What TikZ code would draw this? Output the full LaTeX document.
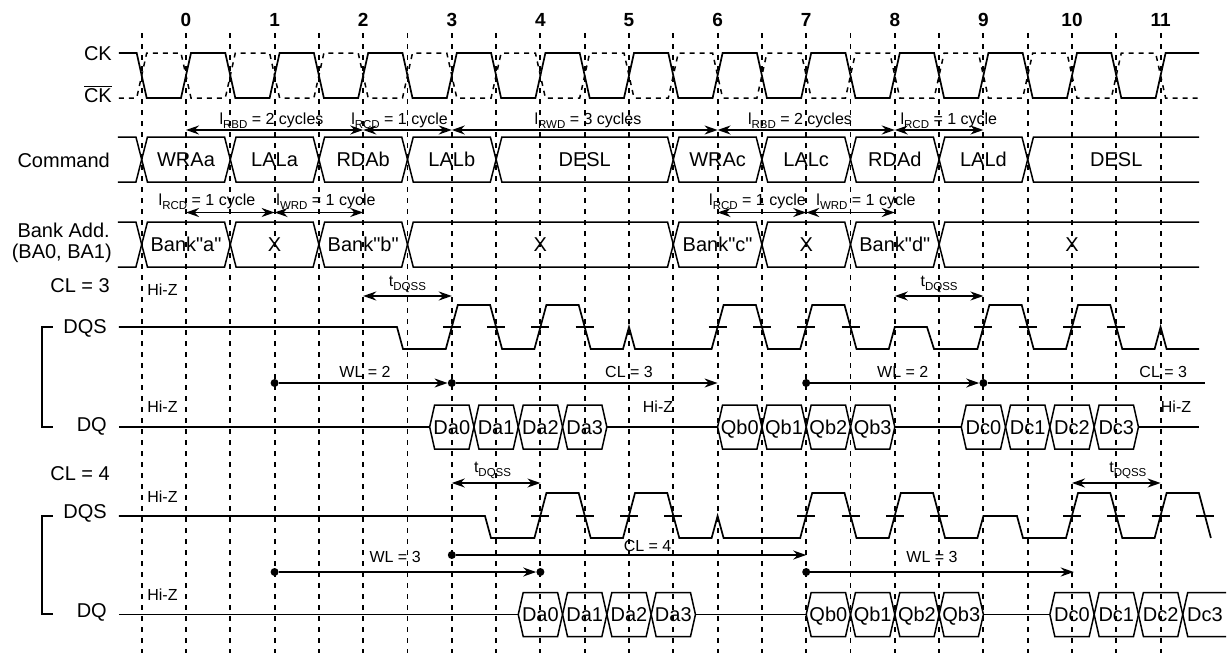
\documentclass[tikz,border=0pt]{standalone}
\usepackage{fontspec}
\setmainfont{Liberation Sans}[Ligatures=TeXOff]
\usetikzlibrary{arrows.meta}
\newcommand\px[1]{((#1-186)/88.6)}
\newcommand\lsub[1]{\raisebox{-4.5pt}{\fontsize{11.5}{12}\selectfont #1}}
\newcommand\qq{\symbol{34}}
\newcommand\bcell[7]{%
  \draw[bus] ({#1},{#3}) -- ({#1+#5},{#3-#4}) -- ({#2-#5},{#3-#4}) -- ({#2},{#3}) -- ({#2-#5},{#3+#4}) -- ({#1+#5},{#3+#4}) -- cycle;
  \node[celltext] (#7) at ({(#1+#2)/2},{#3+7.2}) {#6};}
\newcommand\openL[4]{\draw[bus] ({\px{118}},{#2-#3}) -- ({#1-#4},{#2-#3}) -- ({#1},{#2}) -- ({#1-#4},{#2+#3}) -- ({\px{118}},{#2+#3});}
\newcommand\openR[5]{\draw[bus] ({#2},{#3-#4}) -- ({#1+#5},{#3-#4}) -- ({#1},{#3}) -- ({#1+#5},{#3+#4}) -- ({#2},{#3+#4});}
\def\cs{0.0564}
\def\bsw{0.065}
\def\dqw{0.056}
\def\dsw{0.0677}
\def\tk{0.1016}
\begin{document}
\begin{tikzpicture}[x=88.6pt,y=-1pt,
  gridline/.style={line width=1.9pt,dash pattern=on 5pt off 6pt},
  wave/.style={line width=1.7pt,line join=miter},
  ckbar/.style={line width=1.5pt,dash pattern=on 5pt off 5pt},
  bus/.style={line width=1.5pt},
  big/.style={font=\fontsize{20}{22}\selectfont,inner sep=0pt,anchor=base east},
  celltext/.style={font=\fontsize{20}{22}\selectfont,inner sep=0pt,anchor=base},
  small/.style={font=\fontsize{16}{18}\selectfont,inner sep=0pt,anchor=base},
  num/.style={font=\fontsize{19}{21}\selectfont\bfseries,inner sep=0pt,anchor=base},
  span/.style={line width=1.7pt,{Stealth[length=13pt,width=9pt]}-{Stealth[length=13pt,width=9pt]}},
  lat/.style={line width=1.7pt,-{Stealth[length=13pt,width=9pt]}},
  plain/.style={line width=1.7pt},
  dot/.style={circle,fill=black,inner sep=0pt,minimum size=8pt},
]
\useasboundingbox ({\px{0}},0) rectangle ({\px{1229}},653);

% cycle numbers
\foreach \k in {0,...,11} \node[num] (num\k) at (\k,27) {\k};

% grid
\foreach \k in {-1,...,22} \draw[gridline] ({\k/2},33) -- ({\k/2},653);

% left labels
\node[big] (lck) at ({\px{112}},60.2) {CK};
\node[big] (lckb) at ({\px{112}},102) {$\overline{\hbox{CK}}$};
\node[big] (lcmd) at ({\px{110}},167) {Command};
\node[big] (lba1) at ({\px{110}},237) {Bank Add.};
\node[big] (lba2) at ({\px{112}},258) {(BA0, BA1)};
\node[big] (lcl3) at ({\px{110}},292) {CL = 3};
\node[big] (ldqs3) at ({\px{107}},333) {DQS};
\node[big] (ldq3) at ({\px{107}},431) {DQ};
\node[big] (lcl4) at ({\px{110}},480) {CL = 4};
\node[big] (ldqs4) at ({\px{107}},518) {DQS};
\node[big] (ldq4) at ({\px{107}},617) {DQ};

% brackets
\draw[plain] ({\px{53}},327) -- ({\px{42}},327) -- ({\px{42}},427) -- ({\px{53}},427);
\draw[plain] ({\px{53}},516) -- ({\px{42}},516) -- ({\px{42}},614) -- ({\px{53}},614);

% clocks
\draw[wave] ({\px{119}},53) \foreach \k in {0,...,11} { -- ({\k-0.5-\cs},53) -- ({\k-0.5+\cs},98) -- ({\k-\cs},98) -- ({\k+\cs},53) } -- ({\px{1199}},53);
\draw[ckbar] ({\px{119}},98) \foreach \k in {0,...,11} { -- ({\k-0.5-\cs},98) -- ({\k-0.5+\cs},53) -- ({\k-\cs},53) -- ({\k+\cs},98) } -- ({\px{1199}},98);

% command bus
\openL{-0.5}{159.5}{22.5}{\bsw}
\bcell{-0.5}{0.5}{159.5}{22.5}{\bsw}{WRAa}{cmd1}
\bcell{0.5}{1.5}{159.5}{22.5}{\bsw}{LALa}{cmd2}
\bcell{1.5}{2.5}{159.5}{22.5}{\bsw}{RDAb}{cmd3}
\bcell{2.5}{3.5}{159.5}{22.5}{\bsw}{LALb}{cmd4}
\bcell{3.5}{5.5}{159.5}{22.5}{\bsw}{DESL}{cmd5}
\bcell{5.5}{6.5}{159.5}{22.5}{\bsw}{WRAc}{cmd6}
\bcell{6.5}{7.5}{159.5}{22.5}{\bsw}{LALc}{cmd7}
\bcell{7.5}{8.5}{159.5}{22.5}{\bsw}{RDAd}{cmd8}
\bcell{8.5}{9.5}{159.5}{22.5}{\bsw}{LALd}{cmd9}
\openR{9.5}{\px{1199}}{159.5}{22.5}{\bsw}
\node[celltext] (cmd10) at (10.5,166.7) {DESL};

% command annotations
\draw[span] (0,130) -- (2,130);
\draw[span] (2,130) -- (3,130);
\draw[span] (3,130) -- (6,130);
\draw[span] (6,130) -- (8,130);
\draw[span] (8,130) -- (9,130);
\node[small] (a1) at (0.965,124) {l\lsub{RBD} = 2 cycles};
\node[small] (a2) at (2.41,124) {l\lsub{RCD} = 1 cycle};
\node[small] (a3) at (4.537,124) {l\lsub{RWD} = 3 cycles};
\node[small] (a4) at (6.93,124) {l\lsub{RBD} = 2 cycles};
\node[small] (a5) at (8.61,124) {l\lsub{RCD} = 1 cycle};

% bank bus
\openL{-0.5}{244.5}{22.5}{\bsw}
\bcell{-0.5}{0.5}{244.5}{22.5}{\bsw}{Bank\qq a\qq}{ba1}
\bcell{0.5}{1.5}{244.5}{22.5}{\bsw}{X}{ba2}
\bcell{1.5}{2.5}{244.5}{22.5}{\bsw}{Bank\qq b\qq}{ba3}
\bcell{2.5}{5.5}{244.5}{22.5}{\bsw}{X}{ba4}
\bcell{5.5}{6.5}{244.5}{22.5}{\bsw}{Bank\qq c\qq}{ba5}
\bcell{6.5}{7.5}{244.5}{22.5}{\bsw}{X}{ba6}
\bcell{7.5}{8.5}{244.5}{22.5}{\bsw}{Bank\qq d\qq}{ba7}
\openR{8.5}{\px{1199}}{244.5}{22.5}{\bsw}
\node[celltext] (ba8) at (10,251.7) {X};

% bank annotations
\draw[span] (0,212.5) -- (1,212.5);
\draw[span] (1,212.5) -- (2,212.5);
\draw[span] (6,212.5) -- (7,212.5);
\draw[span] (7,212.5) -- (8,212.5);
\node[small] (b1) at (0.237,205) {l\lsub{RCD} = 1 cycle};
\node[small] (b2) at (1.58,205) {l\lsub{WRD} = 1 cycle};
\node[small] (b3) at (6.45,205) {l\lsub{RCD} = 1 cycle};
\node[small] (b4) at (7.675,205) {l\lsub{WRD} = 1 cycle};

% ===== CL = 3 =====
\draw[span] (2,296) -- (3,296);
\draw[span] (8,296) -- (9,296);
\node[small] (q1) at (2.5,286) {t\lsub{DQSS}};
\node[small] (q2) at (8.5,286) {t\lsub{DQSS}};
\node[small] (hz1) at ({\px{162.5}},295) {Hi-Z};

\draw[wave] ({\px{119}},327) -- ({\px{397}},327) -- ({\px{403}},349)
 -- ({3-\dsw},349) -- ({3+\dsw},305) -- ({3.5-\dsw},305) -- ({3.5+\dsw},349)
 -- ({4-\dsw},349) -- ({4+\dsw},305) -- ({4.5-\dsw},305) -- ({4.5+\dsw},349)
 -- ({5-\dsw},349) -- (5,327) -- ({5+\dsw},349)
 -- ({6-\dsw},349) -- ({6+\dsw},305) -- ({6.5-\dsw},305) -- ({6.5+\dsw},349)
 -- ({7-\dsw},349) -- ({7+\dsw},305) -- ({7.5-\dsw},305) -- ({7.5+\dsw},349)
 -- ({8-\dsw},349) -- (8,327) -- ({\px{927}},327) -- ({\px{934}},349)
 -- ({9-\dsw},349) -- ({9+\dsw},305) -- ({9.5-\dsw},305) -- ({9.5+\dsw},349)
 -- ({10-\dsw},349) -- ({10+\dsw},305) -- ({10.5-\dsw},305) -- ({10.5+\dsw},349)
 -- ({11-\dsw},349) -- (11,327) -- ({11+\dsw},349) -- ({\px{1199}},349);
\foreach \t in {3,3.5,4,4.5,6,6.5,7,7.5,9,9.5,10,10.5}
  \draw[wave] ({\t-\tk},327) -- ({\t+\tk},327);

\node[dot] (w1) at (1,383) {};
\node[dot] (w2) at (3,383) {};
\node[dot] (w3) at (7,383) {};
\node[dot] (w4) at (9,383) {};
\coordinate (w5) at (6,383);
\coordinate (w6) at ({\px{1205}},383);
\draw[lat] (w1) -- (w2);
\draw[lat] (w2) -- (w5);
\draw[lat] (w3) -- (w4);
\draw[plain] (w4) -- (w6);
\node[small] (wl1) at (2.02,377) {WL = 2};
\node[small] (cl1) at (5.0,377) {CL = 3};
\node[small] (wl2) at (8.09,377) {WL = 2};
\node[small] (cl2) at (11.03,377) {CL = 3};

\node[small] (hz2) at ({\px{162.5}},412) {Hi-Z};
\node[small] (hz3) at ({\px{658}},412) {Hi-Z};
\node[small] (hz4) at ({\px{1176}},412) {Hi-Z};

\draw[bus] ({\px{119}},427) -- (2.75,427);
\foreach \a/\l [count=\i] in {2.75/Da0,3.25/Da1,3.75/Da2,4.25/Da3}
  {\bcell{\a}{\a+0.5}{427}{22}{\dqw}{\l}{dqa\i}}
\draw[bus] (4.75,427) -- (6,427);
\foreach \a/\l [count=\i] in {6/Qb0,6.5/Qb1,7/Qb2,7.5/Qb3}
  {\bcell{\a}{\a+0.5}{427}{22}{\dqw}{\l}{dqb\i}}
\draw[bus] (8,427) -- (8.75,427);
\foreach \a/\l [count=\i] in {8.75/Dc0,9.25/Dc1,9.75/Dc2,10.25/Dc3}
  {\bcell{\a}{\a+0.5}{427}{22}{\dqw}{\l}{dqc\i}}
\draw[bus] (10.75,427) -- ({\px{1199}},427);

% ===== CL = 4 =====
\draw[span] (3,483) -- (4,483);
\draw[span] (10,483) -- (11,483);
\node[small] (q3) at (3.46,472) {t\lsub{DQSS}};
\node[small] (q4) at (10.63,472) {t\lsub{DQSS}};
\node[small] (hz5) at ({\px{162.5}},502) {Hi-Z};

\draw[wave] ({\px{119}},516) -- ({\px{485}},516) -- ({\px{491}},538)
 -- ({4-\dsw},538) -- ({4+\dsw},493) -- ({4.5-\dsw},493) -- ({4.5+\dsw},538)
 -- ({5-\dsw},538) -- ({5+\dsw},493) -- ({5.5-\dsw},493) -- ({5.5+\dsw},538)
 -- ({6-\dsw},538) -- (6,516) -- ({6+\dsw},538)
 -- ({7-\dsw},538) -- ({7+\dsw},493) -- ({7.5-\dsw},493) -- ({7.5+\dsw},538)
 -- ({8-\dsw},538) -- ({8+\dsw},493) -- ({8.5-\dsw},493) -- ({8.5+\dsw},538)
 -- ({9-\dsw},538) -- (9,516) -- ({\px{1017}},516) -- ({\px{1023}},538)
 -- ({10-\dsw},538) -- ({10+\dsw},493) -- ({10.5-\dsw},493) -- ({10.5+\dsw},538)
 -- ({11-\dsw},538) -- ({11+\dsw},493) -- ({11.5-\dsw},493) -- ({11.5+\dsw},538);
\foreach \t in {4,4.5,5,5.5,7,7.5,8,8.5,10,10.5,11,11.5}
  \draw[wave] ({\t-\tk},516) -- ({\t+\tk},516);

\node[dot] (v1) at (1,572) {};
\node[dot] (v2) at (4,572) {};
\node[dot] (v3) at (3,555) {};
\node[dot] (v4) at (7,572) {};
\coordinate (v5) at (7,555);
\coordinate (v6) at (10.02,572);
\draw[lat] (v1) -- (v2);
\draw[lat] (v3) -- (v5);
\draw[lat] (v4) -- (v6);
\node[small] (wl3) at (2.36,562) {WL = 3};
\node[small] (cl3) at (5.21,551) {CL = 4};
\node[small] (wl4) at (8.42,562) {WL = 3};

\node[small] (hz6) at ({\px{162.5}},600) {Hi-Z};
\draw[bus] ({\px{119}},614.5) -- (3.75,614.5);
\foreach \a/\l [count=\i] in {3.75/Da0,4.25/Da1,4.75/Da2,5.25/Da3}
  {\bcell{\a}{\a+0.5}{614.5}{22}{\dqw}{\l}{dqd\i}}
\draw[bus] (5.75,614.5) -- (7,614.5);
\foreach \a/\l [count=\i] in {7/Qb0,7.5/Qb1,8/Qb2,8.5/Qb3}
  {\bcell{\a}{\a+0.5}{614.5}{22}{\dqw}{\l}{dqe\i}}
\draw[bus] (9,614.5) -- (9.75,614.5);
\foreach \a/\l [count=\i] in {9.75/Dc0,10.25/Dc1,10.75/Dc2}
  {\bcell{\a}{\a+0.5}{614.5}{22}{\dqw}{\l}{dqf\i}}
\openR{11.25}{\px{1226}}{614.5}{22}{\dqw}
\node[celltext] (dqf4) at (11.5,621.7) {Dc3};
\end{tikzpicture}
\end{document}
